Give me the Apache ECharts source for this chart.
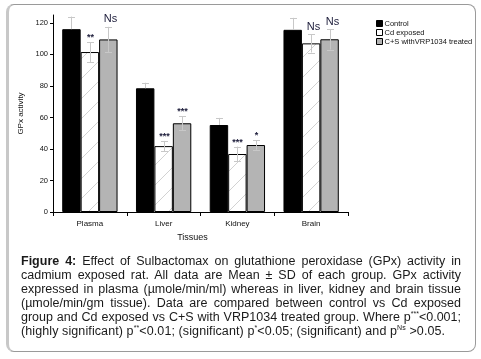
<!DOCTYPE html>
<html>
<head>
<meta charset="utf-8">
<script src="https://cdn.jsdelivr.net/npm/echarts@6/dist/echarts.min.js"></script>
<style>
  html, body { margin: 0; padding: 0; background: #fff; }
  #wrap { position: relative; width: 481px; height: 359px; overflow: hidden; }
  #frame { position: absolute; left: 6px; top: 4px; width: 466px; height: 346px;
           border: 1px solid #9a9a9a; border-left: 3px solid #c8c8c8; border-radius: 8px; }
  #chart { position: absolute; left: 0; top: 0; width: 481px; height: 359px; }
  #caption { position: absolute; left: 21px; top: 254px; width: 440px;
             font-family: "Liberation Sans", Arial, sans-serif; font-size: 12.5px; line-height: 14px;
             color: #1a1a1a; }
  #caption div { white-space: nowrap; text-align: justify; text-align-last: justify; }
  #caption div.last { text-align-last: left; letter-spacing: 0.1px; }
  #caption sup { font-size: 7px; line-height: 0; vertical-align: 5px; }
</style>
</head>
<body>
<div id="wrap">
  <div id="frame"></div>
  <div id="chart"></div>
  <div id="caption">
    <div><b>Figure 4:</b> Effect of Sulbactomax on glutathione peroxidase (GPx) activity in</div>
    <div>cadmium exposed rat. All data are Mean ± SD of each group. GPx activity</div>
    <div>expressed in plasma (µmole/min/ml) whereas in liver, kidney and brain tissue</div>
    <div>(µmole/min/gm tissue). Data are compared between control vs Cd exposed</div>
    <div>group and Cd exposed vs C+S with VRP1034 treated group. Where p<sup>***</sup>&lt;0.001;</div>
    <div class="last">(highly significant) p<sup>**</sup>&lt;0.01; (significant) p<sup>*</sup>&lt;0.05; (significant) and p<sup>Ns</sup> &gt;0.05.</div>
  </div>
</div>
<script>
const categories = ['Plasma', 'Liver', 'Kidney', 'Brain'];
const seriesNames = ['Control', 'Cd exposed', 'C+S withVRP1034 treated'];
const control = [116, 78.5, 55.2, 115.6];
const controlSD = [8, 3.5, 4.5, 7.6];
const cdExposed = [101.5, 41.8, 36.8, 107];
const cdSD = [6.3, 3.3, 4.7, 5.8];
const treated = [109.5, 56.3, 42.5, 109.6];
const treatedSD = [8, 4.5, 3, 6.5];
const cdMarks = ['**', '***', '***', 'Ns'];
const treatedMarks = ['Ns', '***', '*', 'Ns'];
const yTicks = [0, 20, 40, 60, 80, 100, 120];

const FONT = '"Liberation Sans", Arial, sans-serif';

// hatch pattern for Cd exposed bars
const pc = document.createElement('canvas');
pc.width = 20; pc.height = 20;
const g = pc.getContext('2d');
g.fillStyle = '#ffffff'; g.fillRect(0, 0, 20, 20);
g.strokeStyle = '#d2d2d2'; g.lineWidth = 1;
g.beginPath();
g.moveTo(-2, 22); g.lineTo(22, -2);
g.moveTo(18, 22); g.lineTo(22, 18);
g.moveTo(-2, 2); g.lineTo(2, -2);
g.stroke();

const GAP = 0.25;

function errRenderer(sIdx, marks, upperOnly) {
  return function (params, api) {
    const i = api.value(0), v = api.value(1), e = api.value(2);
    const c = api.coord([i, v]);
    const hi = api.coord([i, v + e]);
    const lo = api.coord([i, upperOnly ? v : v - e]);
    const band = api.size([1, 0])[0];
    const bw = band * (1 - GAP) / 3;
    const x = Math.round(c[0] + (sIdx - 1) * bw) + 0.5;
    const cap = 3.5;
    const st = { stroke: '#c8c8c8', lineWidth: 1 };
    const children = [
      { type: 'line', shape: { x1: x, y1: hi[1], x2: x, y2: lo[1] }, style: st },
      { type: 'line', shape: { x1: x - cap, y1: Math.round(hi[1]) + 0.5, x2: x + cap, y2: Math.round(hi[1]) + 0.5 }, style: st }
    ];
    if (!upperOnly) {
      children.push({ type: 'line', shape: { x1: x - cap, y1: Math.round(lo[1]) + 0.5, x2: x + cap, y2: Math.round(lo[1]) + 0.5 }, style: st });
    }
    if (marks) {
      const m = marks[params.dataIndex];
      const isNs = m === 'Ns';
      children.push({
        type: 'text',
        style: {
          text: m, x: x + (isNs ? 2 : 0), y: hi[1] - (isNs ? 2 : 0),
          align: 'center', verticalAlign: 'bottom',
          font: (isNs ? '11px ' : 'bold 9px ') + FONT,
          fill: '#1c1c3a'
        }
      });
    }
    return { type: 'group', children };
  };
}

function errData(vals, sds) {
  return vals.map((v, i) => [i, v, sds[i]]);
}

const chart = echarts.init(document.getElementById('chart'), null, { renderer: 'canvas' });
chart.setOption({
  animation: false,
  backgroundColor: 'transparent',
  textStyle: { fontFamily: FONT },
  grid: { left: 53, right: 133, top: 15, bottom: 147 },
  legend: {
    orient: 'vertical', left: 371, top: 14,
    itemWidth: 6, itemHeight: 6, itemGap: 0,
    icon: 'rect',
    textStyle: { fontSize: 7.5, color: '#111', lineHeight: 9, padding: [0, 0, 0, -3] },
    data: [
      { name: seriesNames[0], itemStyle: { color: '#000', borderColor: '#000', borderWidth: 1 } },
      { name: seriesNames[1], itemStyle: { color: '#fff', borderColor: '#000', borderWidth: 1 } },
      { name: seriesNames[2], itemStyle: { color: '#b4b4b4', borderColor: '#000', borderWidth: 1 } }
    ]
  },
  xAxis: {
    type: 'category', data: categories,
    name: 'Tissues', nameLocation: 'middle', nameGap: 20,
    nameTextStyle: { fontSize: 9, color: '#111', padding: [0, 16, 0, 0] },
    axisLine: { lineStyle: { color: '#000', width: 1 } },
    axisTick: { show: true, length: 4, lineStyle: { color: '#000' } },
    axisLabel: { fontSize: 8, color: '#111', margin: 8 }
  },
  yAxis: {
    type: 'value', min: 0, max: 125,
    name: 'GPx activity', nameLocation: 'middle', nameGap: 27,
    nameTextStyle: { fontSize: 8, color: '#111' },
    axisLine: { show: true, lineStyle: { color: '#000', width: 1 } },
    axisTick: { show: true, length: 3, customValues: yTicks, lineStyle: { color: '#000' } },
    axisLabel: { fontSize: 7.5, color: '#111', margin: 5, customValues: yTicks },
    splitLine: { show: false }
  },
  series: [
    { name: seriesNames[0], type: 'bar', data: control, barGap: '0%', barCategoryGap: '25%',
      itemStyle: { color: '#000', borderColor: '#000', borderWidth: 1 } },
    { name: seriesNames[1], type: 'bar', data: cdExposed,
      itemStyle: { color: { image: pc, repeat: 'repeat' }, borderColor: '#000', borderWidth: 1 } },
    { name: seriesNames[2], type: 'bar', data: treated,
      itemStyle: { color: '#b4b4b4', borderColor: '#000', borderWidth: 1 } },
    { type: 'custom', renderItem: errRenderer(0, null, true), data: errData(control, controlSD), z: 5, silent: true },
    { type: 'custom', renderItem: errRenderer(1, cdMarks, false), data: errData(cdExposed, cdSD), z: 5, silent: true },
    { type: 'custom', renderItem: errRenderer(2, treatedMarks, false), data: errData(treated, treatedSD), z: 5, silent: true }
  ]
});
</script>
</body>
</html>
